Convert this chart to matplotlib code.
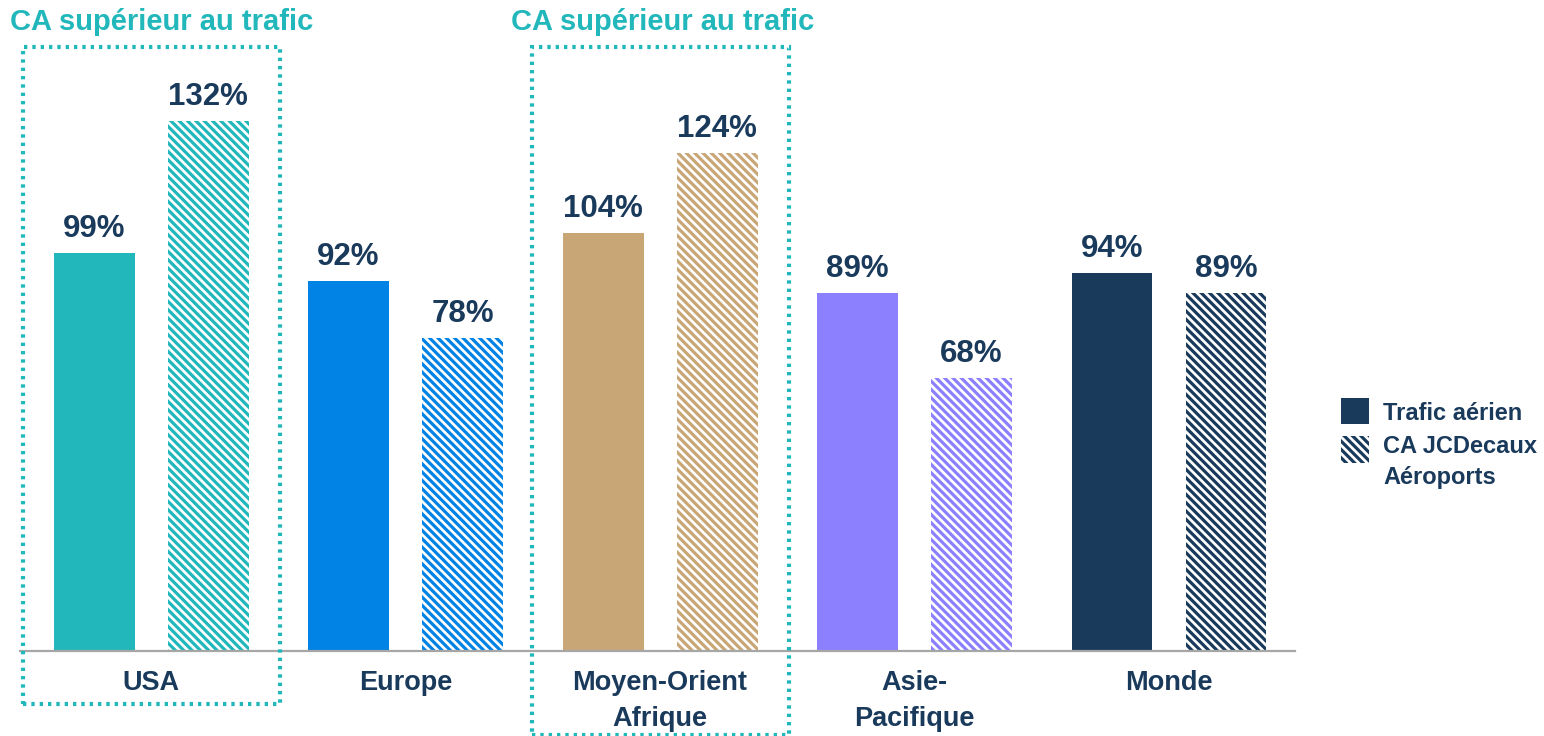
import matplotlib
matplotlib.use("Agg")
import matplotlib.pyplot as plt
import matplotlib.transforms as mtransforms
from matplotlib.patches import Rectangle
import numpy as np

plt.rcParams['font.family'] = ['Liberation Sans', 'DejaVu Sans']
plt.rcParams['font.weight'] = 'bold'
plt.rcParams['hatch.linewidth'] = 2.3

# data
regions = ["USA", "Europe", "Moyen-Orient\nAfrique", "Asie-\nPacifique", "Monde"]
trafic = [99, 92, 104, 89, 94]
ca_jcd = [132, 78, 124, 68, 89]
colors = ["#21B7BB", "#0083E4", "#C9A676", "#8C80FF", "#1A3A5C"]
highlight = [0, 2]   # regions where CA > traffic
highlight_text = "CA supérieur au trafic"
legend_labels = ["Trafic aérien", "CA JCDecaux\nAéroports"]

navy = "#1A3A5C"
teal = "#21B7BB"
W, H = 1544, 736

fig = plt.figure(figsize=(15.44, 7.36), dpi=100)
ax = fig.add_axes([20 / W, 85 / H, 1275 / W, 651 / H])

x = np.arange(len(regions))
w = 0.318
off = 0.224
hatch = "\\" * 4

ax.bar(x - off, trafic, w, color=colors, linewidth=0)
ax.bar(x + off, ca_jcd, w, color="white", edgecolor=colors, hatch=hatch, linewidth=0)

for i in range(len(regions)):
    ax.annotate(f"{trafic[i]}%", (x[i] - off, trafic[i]), xytext=(0, 11.5),
                textcoords="offset points", ha="center", va="baseline",
                fontsize=22.5, fontweight="bold", color=navy)
    ax.annotate(f"{ca_jcd[i]}%", (x[i] + off, ca_jcd[i]), xytext=(0, 11.5),
                textcoords="offset points", ha="center", va="baseline",
                fontsize=22.5, fontweight="bold", color=navy)

ax.set_xlim(-0.515, 4.495)
ax.set_ylim(0, 162)
ax.set_xticks(x)
ax.set_xticklabels(regions, fontsize=19.5, fontweight="bold", color=navy, linespacing=1.5)
ax.tick_params(axis="x", length=0, pad=14)
ax.set_yticks([])
for s in ["top", "right", "left"]:
    ax.spines[s].set_visible(False)
ax.spines["bottom"].set_color("#A6A6A6")
ax.spines["bottom"].set_linewidth(1.6)

# dotted highlight boxes
trans = mtransforms.blended_transform_factory(ax.transData, fig.transFigure)
box_bottoms = [32 / H, 1.5 / H]
title_shift = [0.04, 0.01]
for k, i in enumerate(highlight):
    r = Rectangle((x[i] - 0.505, box_bottoms[k]), 1.01, 0.936 - box_bottoms[k],
                  transform=trans, fill=False, edgecolor=teal, linewidth=3,
                  linestyle=(0, (0.8, 1.2)), clip_on=False)
    fig.add_artist(r)
    fig.text(x[i] + title_shift[k], 1 - 22 / H, highlight_text, transform=trans,
             fontsize=21, fontweight="bold", color=teal, ha="center", va="center")

# legend drawn by hand
lx, ly = 1341, [398, 436]
fig.add_artist(Rectangle((lx / W, 1 - (ly[0] + 26) / H), 28 / W, 26 / H,
                         transform=fig.transFigure, facecolor=navy, linewidth=0))
fig.add_artist(Rectangle((lx / W, 1 - (ly[1] + 27) / H), 28 / W, 27 / H,
                         transform=fig.transFigure, facecolor="white", edgecolor=navy,
                         hatch=hatch, linewidth=0))
fig.text(1383 / W, 1 - 413 / H, legend_labels[0], fontsize=17, fontweight="bold",
         color=navy, ha="left", va="center")
fig.text(1383 / W, 1 - 435 / H, legend_labels[1], fontsize=17, fontweight="bold",
         color=navy, ha="left", va="top", linespacing=1.45)

fig.savefig("out.png", dpi=100)
